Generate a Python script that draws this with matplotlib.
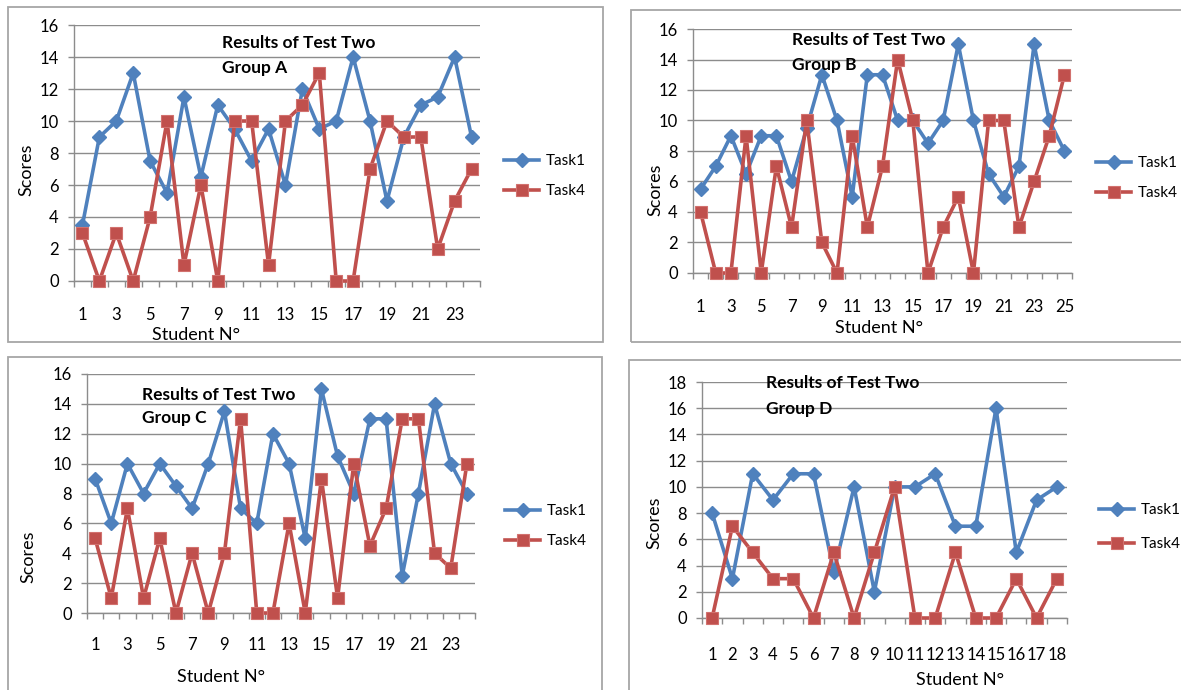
import matplotlib
matplotlib.use("Agg")
import matplotlib.pyplot as plt
from matplotlib.patches import Rectangle
from matplotlib.ticker import FixedLocator, NullFormatter, FixedFormatter

plt.rcParams['font.family'] = ['Lato', 'DejaVu Sans']

# ---------------- data ----------------
title_line1 = "Results of Test Two"
groups = ["Group A", "Group B", "Group C", "Group D"]
series_names = ["Task1", "Task4"]
x_label = "Student N°"
y_label = "Scores"

a_task1 = [3.5, 9, 10, 13, 7.5, 5.5, 11.5, 6.5, 11, 9.5, 7.5, 9.5, 6, 12, 9.5, 10, 14, 10, 5, 9, 11, 11.5, 14, 9]
a_task4 = [3, 0, 3, 0, 4, 10, 1, 6, 0, 10, 10, 1, 10, 11, 13, 0, 0, 7, 10, 9, 9, 2, 5, 7]

b_task1 = [5.5, 7, 9, 6.5, 9, 9, 6, 9.5, 13, 10, 5, 13, 13, 10, 10, 8.5, 10, 15, 10, 6.5, 5, 7, 15, 10, 8]
b_task4 = [4, 0, 0, 9, 0, 7, 3, 10, 2, 0, 9, 3, 7, 14, 10, 0, 3, 5, 0, 10, 10, 3, 6, 9, 13]

c_task1 = [9, 6, 10, 8, 10, 8.5, 7, 10, 13.5, 7, 6, 12, 10, 5, 15, 10.5, 8, 13, 13, 2.5, 8, 14, 10, 8]
c_task4 = [5, 1, 7, 1, 5, 0, 4, 0, 4, 13, 0, 0, 6, 0, 9, 1, 10, 4.5, 7, 13, 13, 4, 3, 10]

d_task1 = [8, 3, 11, 9, 11, 11, 3.5, 10, 2, 10, 10, 11, 7, 7, 16, 5, 9, 10]
d_task4 = [0, 7, 5, 3, 3, 0, 5, 0, 5, 10, 0, 0, 5, 0, 0, 3, 0, 3]

y_max = [16, 16, 16, 18]
label_step = [2, 2, 2, 1]

# ---------------- layout ----------------
W, H = 1181, 690
BLUE = "#4F81BD"
RED = "#C0504D"
GRID = "#8C8C8C"
BOX = "#A6A6A6"

fig = plt.figure(figsize=(W / 100, H / 100), dpi=100)


def fx(px):
    return px / W


def fy(py):
    return 1 - py / H


panels = [
    dict(ax=(74, 480, 25, 281), box=(8, 7, 603, 342), title=(222, 43, 68), yl=(26, 170), xl=(196, 335),
         leg=(504, 160, 192), pad=19),
    dict(ax=(693, 1072, 29, 273), box=(631, 10, 1186, 342), title=(792, 40, 65), yl=(655, 190), xl=(879, 328),
         leg=(1096, 162, 194), pad=19),
    dict(ax=(87, 475, 374, 613), box=(8, 357, 602, 700), title=(142, 395, 418), yl=(28, 557), xl=(221, 677),
         leg=(505, 510, 542), pad=17),
    dict(ax=(702, 1067, 382, 618), box=(629, 360, 1186, 700), title=(766, 383, 409), yl=(654, 523), xl=(960, 680),
         leg=(1099, 509, 545), pad=21),
]

data = [(a_task1, a_task4), (b_task1, b_task4), (c_task1, c_task4), (d_task1, d_task4)]

for i, p in enumerate(panels):
    t1, t4 = data[i]
    n = len(t1)
    xs = list(range(1, n + 1))

    bl, bt, br, bb = p["box"]
    fig.add_artist(Rectangle((fx(bl), fy(bb)), fx(br - bl), (bb - bt) / H,
                             transform=fig.transFigure, fill=False, edgecolor=BOX, lw=1.3))

    l, r, t, b = p["ax"]
    ax = fig.add_axes([fx(l), fy(b), fx(r - l), (b - t) / H])
    ax.set_xlim(0.5, n + 0.5)
    ax.set_ylim(0, y_max[i])
    ax.set_yticks(list(range(0, y_max[i] + 1, 2)))
    ax.grid(axis='y', color=GRID, lw=1.0, zorder=0)
    ax.set_axisbelow(True)
    for s in ("top", "right"):
        ax.spines[s].set_visible(False)
    for s in ("left", "bottom"):
        ax.spines[s].set_color(GRID)
        ax.spines[s].set_linewidth(1.0)

    ax.xaxis.set_major_locator(FixedLocator([k + 0.5 for k in range(0, n + 1)]))
    ax.xaxis.set_major_formatter(NullFormatter())
    lab_pos = list(range(1, n + 1, label_step[i]))
    ax.xaxis.set_minor_locator(FixedLocator(lab_pos))
    ax.xaxis.set_minor_formatter(FixedFormatter([str(v) for v in lab_pos]))
    ax.tick_params(axis='x', which='major', direction='out', length=4, width=1, color=GRID)
    ax.tick_params(axis='x', which='minor', length=0, pad=p["pad"], labelsize=12)
    ax.tick_params(axis='y', direction='out', length=4, width=1, color=GRID, pad=7, labelsize=12)

    h1, = ax.plot(xs, t1, color=BLUE, lw=2.6, marker='D', ms=7.5, mfc=BLUE, mec=BLUE, zorder=3,
                  label=series_names[0], clip_on=False)
    h4, = ax.plot(xs, t4, color=RED, lw=2.6, marker='s', ms=8.5, mfc=RED, mec="#D2716E", mew=0.8, zorder=4,
                  label=series_names[1], clip_on=False)

    tx, ty1, ty2 = p["title"]
    fig.text(fx(tx), fy(ty1), title_line1, fontsize=12.5, fontweight='bold', ha='left', va='center')
    fig.text(fx(tx), fy(ty2), groups[i], fontsize=12.5, fontweight='bold', ha='left', va='center')

    yx, yy = p["yl"]
    fig.text(fx(yx), fy(yy), y_label, rotation=90, fontsize=13, ha='center', va='center')
    xx, xy = p["xl"]
    fig.text(fx(xx), fy(xy), x_label, fontsize=13, ha='center', va='center')

    lx, ly1, ly2 = p["leg"]
    ax.legend(handles=[h1, h4], loc='center left',
              bbox_to_anchor=(fx(lx), fy((ly1 + ly2) / 2)), bbox_transform=fig.transFigure,
              frameon=False, fontsize=11, handlelength=2.3, handletextpad=0.45,
              labelspacing=(ly2 - ly1 - 16) / 15.3, borderpad=0, borderaxespad=0)

fig.savefig("out.png", dpi=100)
